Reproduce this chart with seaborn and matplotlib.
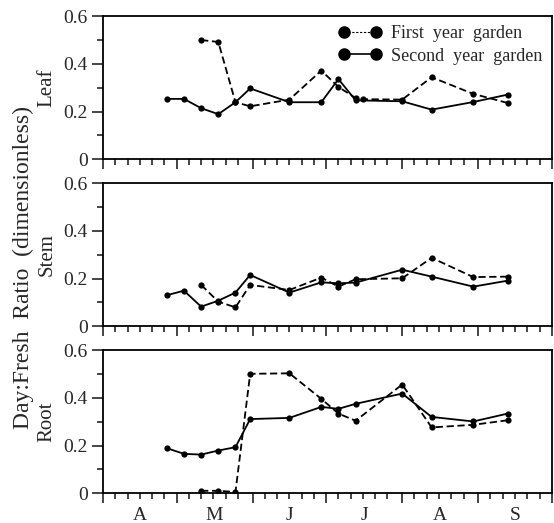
"""
Dry:fresh ratio of leaf, stem and root through the season,
first-year vs second-year garden.
"""

import pandas as pd
import seaborn as sns
import matplotlib.pyplot as plt
from matplotlib.lines import Line2D

# sampling dates (nominal year)
datas_segundo = ['04-27', '05-04', '05-11', '05-18', '05-25', '05-31', '06-16',
                 '06-29', '07-06', '07-13', '08-01', '08-13', '08-30', '09-13']
datas_primeiro = ['05-11', '05-18', '05-25', '05-31', '06-16', '06-29', '07-06',
                  '07-13', '08-01', '08-13', '08-30', '09-13']
datas_folha_primeiro = ['05-11', '05-18', '05-25', '05-31', '06-16', '06-29', '07-06',
                        '07-13', '07-16', '08-01', '08-13', '08-30', '09-13']

# Leaf
folha_segundo = [0.253, 0.253, 0.214, 0.189, 0.239, 0.297, 0.239,
                 0.239, 0.336, 0.247, 0.243, 0.208, 0.240, 0.271]
folha_primeiro = [0.500, 0.492, 0.239, 0.222, 0.250, 0.372, 0.303,
                  0.257, 0.252, 0.250, 0.344, 0.274, 0.236]
# Stem
caule_segundo = [0.130, 0.149, 0.082, 0.107, 0.141, 0.215, 0.141,
                 0.184, 0.180, 0.183, 0.237, 0.208, 0.166, 0.191]
caule_primeiro = [0.173, 0.103, 0.079, 0.173, 0.152, 0.204,
                  0.166, 0.197, 0.201, 0.287, 0.206, 0.208]
# Root
raiz_segundo = [0.189, 0.165, 0.162, 0.179, 0.193, 0.311, 0.316,
                0.362, 0.354, 0.375, 0.418, 0.320, 0.301, 0.334]
raiz_primeiro = [0.010, 0.010, 0.005, 0.501, 0.503, 0.396,
                 0.334, 0.304, 0.456, 0.276, 0.287, 0.306]

meses = ['A', 'M', 'J', 'J', 'A', 'S']
rotulos_y = ['0', '0.2', '0.4', '0.6']

ANO = '1990'
INICIO = pd.Timestamp(ANO + '-04-01')
PRIMEIRO = 'First year garden'
SEGUNDO = 'Second year garden'


def dias(datas):
    return [(pd.Timestamp(ANO + '-' + d) - INICIO).days for d in datas]


def montar_df(datas1, valores1, datas2, valores2):
    df1 = pd.DataFrame({'dia': dias(datas1), 'razao': valores1, 'jardim': PRIMEIRO})
    df2 = pd.DataFrame({'dia': dias(datas2), 'razao': valores2, 'jardim': SEGUNDO})
    return pd.concat([df1, df2], ignore_index=True)


paineis = [
    ('Leaf', montar_df(datas_folha_primeiro, folha_primeiro, datas_segundo, folha_segundo)),
    ('Stem', montar_df(datas_primeiro, caule_primeiro, datas_segundo, caule_segundo)),
    ('Root', montar_df(datas_primeiro, raiz_primeiro, datas_segundo, raiz_segundo)),
]

sns.set_theme(style="ticks")
plt.rcParams['font.family'] = ['Liberation Serif', 'DejaVu Serif']
plt.rcParams['axes.linewidth'] = 1.3

inicio_meses = [(d - INICIO).days for d in pd.date_range(INICIO, periods=7, freq='MS')]
menores = [m + k for m in inicio_meses[:-1] for k in (5, 10, 15, 20, 25)]
centros = [(a + b) / 2 for a, b in zip(inicio_meses[:-1], inicio_meses[1:])]

fig, eixos = plt.subplots(3, 1, figsize=(5.54, 5.23), dpi=100, sharex=True)
fig.subplots_adjust(left=0.186, right=0.996, top=0.969, bottom=0.057, hspace=0.168)

for ax, (nome, df) in zip(eixos, paineis):
    sns.lineplot(data=df, x='dia', y='razao', style='jardim',
                 style_order=[PRIMEIRO, SEGUNDO],
                 dashes={PRIMEIRO: (4, 2), SEGUNDO: ''},
                 markers={PRIMEIRO: 'o', SEGUNDO: 'o'},
                 color='black', linewidth=1.3, markersize=4.5,
                 markeredgewidth=0, ax=ax, legend=False)
    ax.set_xlim(0, 181)
    ax.set_ylim(0, 0.6)
    ax.set_yticks([0, 0.2, 0.4, 0.6])
    ax.set_yticklabels(rotulos_y, fontsize=14)
    ax.set_yticks([0.1, 0.3, 0.5], minor=True)
    ax.set_xticks(inicio_meses)
    ax.set_xticks(menores, minor=True)
    ax.tick_params(axis='x', which='major', direction='out', length=7, width=1.2,
                   labelbottom=False)
    ax.tick_params(axis='x', which='minor', direction='out', length=4, width=1.2)
    ax.tick_params(axis='y', which='major', direction='out', length=8, width=1.2, pad=3)
    ax.tick_params(axis='y', which='minor', direction='out', length=4.5, width=1.2)
    ax.set_xlabel('')
    ax.set_ylabel(nome, fontsize=15, labelpad=5)
    for lado in ax.spines.values():
        lado.set_color('black')

# month letters under the bottom panel
ax_base = eixos[-1]
for c, m in zip(centros, meses):
    ax_base.text(c, -0.155, m, transform=ax_base.get_xaxis_transform(),
                 ha='center', va='center', fontsize=14)

fig.text(0.043, 0.488, 'Day:Fresh  Ratio  (dimensionless)', rotation=90,
         ha='center', va='center', fontsize=17)

alcas = [
    Line2D([0], [0], color='black', lw=0.8, ls=(0, (2, 1.5)), marker='o', markersize=8),
    Line2D([0], [0], color='black', lw=1.2, ls='-', marker='o', markersize=8),
]
eixos[0].legend(alcas, ['First  year  garden', 'Second  year  garden'],
                loc='upper right', bbox_to_anchor=(1.0, 1.0), frameon=False,
                numpoints=2, handlelength=2.37, handletextpad=0.53,
                labelspacing=0.3, borderaxespad=0.3, borderpad=0.2, fontsize=13)

plt.savefig('out.png', dpi=100)
plt.close()
